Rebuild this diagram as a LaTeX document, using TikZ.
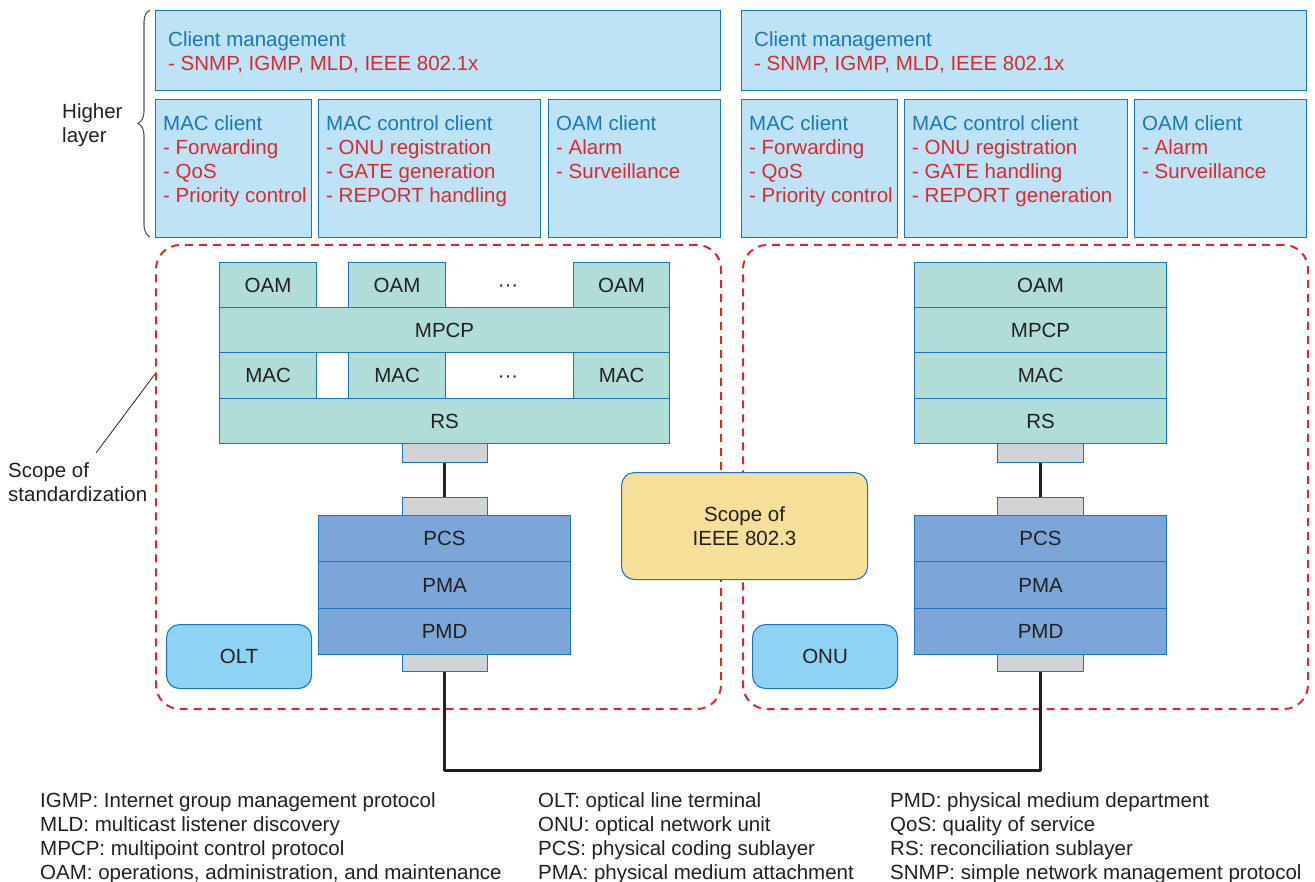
\documentclass[tikz,border=0pt]{standalone}
\usepackage{fontspec}
\setmainfont{Liberation Sans}
\usetikzlibrary{decorations.pathreplacing,calc}

\definecolor{edgeblue}{HTML}{1B75BC}
\definecolor{clientfill}{HTML}{BEE3F6}
\definecolor{layerfill}{HTML}{B0DDD7}
\definecolor{phyfill}{HTML}{7CA6D8}
\definecolor{plugfill}{HTML}{D1D3D4}
\definecolor{unitfill}{HTML}{8ED3F3}
\definecolor{scopefill}{HTML}{F6DF98}
\definecolor{accred}{HTML}{DA2830}
\definecolor{inkdark}{HTML}{231F20}
\definecolor{bracegray}{HTML}{555555}

\begin{document}
\begin{tikzpicture}[x=1pt,y=-1pt,
  font=\fontsize{20.5}{24}\selectfont,
  every node/.style={text=inkdark},
  clientbox/.style={draw=edgeblue, fill=clientfill, line width=1.1pt, inner sep=0pt, anchor=north west},
  clienttext/.style={align=left, inner sep=0pt, anchor=north west, text=edgeblue},
  layerbox/.style={draw=edgeblue, fill=layerfill, line width=1.1pt, inner sep=0pt, anchor=north west},
  phybox/.style={draw=edgeblue, fill=phyfill, line width=1.1pt, inner sep=0pt, anchor=north west},
  plug/.style={draw=edgeblue, fill=plugfill, line width=0.9pt, inner sep=0pt, anchor=north west},
  unitbox/.style={draw=edgeblue, fill=unitfill, line width=1.1pt, rounded corners=13pt, inner sep=0pt, anchor=north west},
  scopebox/.style={draw=accred, line width=2pt, dash pattern=on 8pt off 6pt, rounded corners=24pt, inner sep=0pt, anchor=north west},
  link/.style={draw=inkdark, line width=3pt},
  legend/.style={anchor=base west, inner sep=0pt}
]
\useasboundingbox (0,0) rectangle (1315,882);

% ---------- scopes of standardization (dashed) ----------
\node[scopebox, minimum width=565pt, minimum height=464pt] (scopeL) at (155,244) {};
\node[scopebox, minimum width=565pt, minimum height=464pt] (scopeR) at (742,244) {};

% ---------- higher layer: OLT side ----------
\node[clientbox, minimum width=565pt, minimum height=80pt] (cmL) at (155,10) {};
\node[clienttext, anchor=west] (cmLt) at ($(cmL.west)+(13,2)$)
  {Client management\\\textcolor{accred}{- SNMP, IGMP, MLD, IEEE 802.1x}};
\node[clientbox, minimum width=156pt, minimum height=138pt] (mcL) at (155,99) {};
\node[clienttext] (mcLt) at ($(mcL.north west)+(8,16)$)
  {MAC client\\\textcolor{accred}{- Forwarding}\\\textcolor{accred}{- QoS}\\\textcolor{accred}{- Priority control}};
\node[clientbox, minimum width=222pt, minimum height=138pt] (mccL) at (318,99) {};
\node[clienttext] (mccLt) at ($(mccL.north west)+(8,16)$)
  {MAC control client\\\textcolor{accred}{- ONU registration}\\\textcolor{accred}{- GATE generation}\\\textcolor{accred}{- REPORT handling}};
\node[clientbox, minimum width=172pt, minimum height=138pt] (ocL) at (548,99) {};
\node[clienttext] (ocLt) at ($(ocL.north west)+(8,16)$)
  {OAM client\\\textcolor{accred}{- Alarm}\\\textcolor{accred}{- Surveillance}};

% ---------- higher layer: ONU side ----------
\node[clientbox, minimum width=565pt, minimum height=80pt] (cmR) at (741,10) {};
\node[clienttext, anchor=west] (cmRt) at ($(cmR.west)+(13,2)$)
  {Client management\\\textcolor{accred}{- SNMP, IGMP, MLD, IEEE 802.1x}};
\node[clientbox, minimum width=156pt, minimum height=138pt] (mcR) at (741,99) {};
\node[clienttext] (mcRt) at ($(mcR.north west)+(8,16)$)
  {MAC client\\\textcolor{accred}{- Forwarding}\\\textcolor{accred}{- QoS}\\\textcolor{accred}{- Priority control}};
\node[clientbox, minimum width=223pt, minimum height=138pt] (mccR) at (904,99) {};
\node[clienttext] (mccRt) at ($(mccR.north west)+(8,16)$)
  {MAC control client\\\textcolor{accred}{- ONU registration}\\\textcolor{accred}{- GATE handling}\\\textcolor{accred}{- REPORT generation}};
\node[clientbox, minimum width=172pt, minimum height=138pt] (ocR) at (1134,99) {};
\node[clienttext] (ocRt) at ($(ocR.north west)+(8,16)$)
  {OAM client\\\textcolor{accred}{- Alarm}\\\textcolor{accred}{- Surveillance}};

% brace and its label
\draw[bracegray, line width=1.1pt, decorate, decoration={brace, amplitude=12pt, aspect=0.5}]
  (150,237) -- (150,10);
\node[align=left, anchor=west, inner sep=0pt] (higher) at (62,125) {Higher\\layer};

% ---------- OLT protocol stack ----------
\node[layerbox, minimum width=97pt, minimum height=45pt] (oamL1) at (219,262) {OAM};
\node[layerbox, minimum width=97pt, minimum height=45pt] (oamL2) at (348,262) {OAM};
\node[inner sep=0pt] (dotsL1) at (508,288) {···};
\node[layerbox, minimum width=96pt, minimum height=45pt] (oamL3) at (573,262) {OAM};
\node[layerbox, minimum width=450pt, minimum height=45pt] (mpcpL) at (219,307) {MPCP};
\node[layerbox, minimum width=97pt, minimum height=46pt] (macL1) at (219,352) {MAC};
\node[layerbox, minimum width=97pt, minimum height=46pt] (macL2) at (348,352) {MAC};
\node[inner sep=0pt] (dotsL2) at (508,379) {···};
\node[layerbox, minimum width=96pt, minimum height=46pt] (macL3) at (573,352) {MAC};
\node[layerbox, minimum width=450pt, minimum height=45pt] (rsL) at (219,398) {RS};
\node[plug, minimum width=85pt, minimum height=19pt] (gL1) at (402,443) {};
\node[plug, minimum width=85pt, minimum height=18pt] (gL2) at (402,497) {};
\node[phybox, minimum width=252pt, minimum height=46pt] (pcsL) at (318,515) {PCS};
\node[phybox, minimum width=252pt, minimum height=47pt] (pmaL) at (318,561) {PMA};
\node[phybox, minimum width=252pt, minimum height=46pt] (pmdL) at (318,608) {PMD};
\node[plug, minimum width=85pt, minimum height=17pt] (gL3) at (402,654) {};
\node[unitbox, minimum width=145pt, minimum height=64pt] (olt) at (166,624) {OLT};

% ---------- ONU protocol stack ----------
\node[layerbox, minimum width=252pt, minimum height=45pt] (oamR) at (914,262) {OAM};
\node[layerbox, minimum width=252pt, minimum height=45pt] (mpcpR) at (914,307) {MPCP};
\node[layerbox, minimum width=252pt, minimum height=46pt] (macR) at (914,352) {MAC};
\node[layerbox, minimum width=252pt, minimum height=45pt] (rsR) at (914,398) {RS};
\node[plug, minimum width=86pt, minimum height=19pt] (gR1) at (997,443) {};
\node[plug, minimum width=86pt, minimum height=18pt] (gR2) at (997,497) {};
\node[phybox, minimum width=252pt, minimum height=46pt] (pcsR) at (914,515) {PCS};
\node[phybox, minimum width=252pt, minimum height=47pt] (pmaR) at (914,561) {PMA};
\node[phybox, minimum width=252pt, minimum height=46pt] (pmdR) at (914,608) {PMD};
\node[plug, minimum width=86pt, minimum height=17pt] (gR3) at (997,654) {};
\node[unitbox, minimum width=145pt, minimum height=64pt] (onu) at (752,624) {ONU};

% ---------- scope of IEEE 802.3 ----------
\node[draw=edgeblue, fill=scopefill, line width=1.1pt, rounded corners=13pt, inner sep=0pt,
      anchor=north west, minimum width=246pt, minimum height=107pt, align=center]
  (ieee) at (621,472) {Scope of\\IEEE 802.3};

% ---------- interface links and fibre ----------
\draw[link] (gL1.south) -- (gL2.north);
\draw[link] (gR1.south) -- (gR2.north);
\draw[link, line join=round] (gL3.south) -- (gL3.south |- 0,770) -| (gR3.south);

% ---------- scope of standardization callout ----------
\node[align=left, anchor=north west, inner sep=0pt] (stdz) at (8,462) {Scope of\\standardization};
\coordinate (leadA) at (96,453);
\draw[inkdark, line width=0.8pt] (leadA) -- (scopeL.west |- 0,374);

% ---------- legend ----------
\node[legend] (lg1) at (40,807) {IGMP: Internet group management protocol};
\node[legend] (lg2) at (40,831) {MLD: multicast listener discovery};
\node[legend] (lg3) at (40,855) {MPCP: multipoint control protocol};
\node[legend] (lg4) at (40,879) {OAM: operations, administration, and maintenance};
\node[legend] (lg5) at (538,807) {OLT: optical line terminal};
\node[legend] (lg6) at (538,831) {ONU: optical network unit};
\node[legend] (lg7) at (538,855) {PCS: physical coding sublayer};
\node[legend] (lg8) at (538,879) {PMA: physical medium attachment};
\node[legend] (lg9) at (890,807) {PMD: physical medium department};
\node[legend] (lg10) at (890,831) {QoS: quality of service};
\node[legend] (lg11) at (890,855) {RS: reconciliation sublayer};
\node[legend] (lg12) at (890,879) {SNMP: simple network management protocol};
\end{tikzpicture}
\end{document}
